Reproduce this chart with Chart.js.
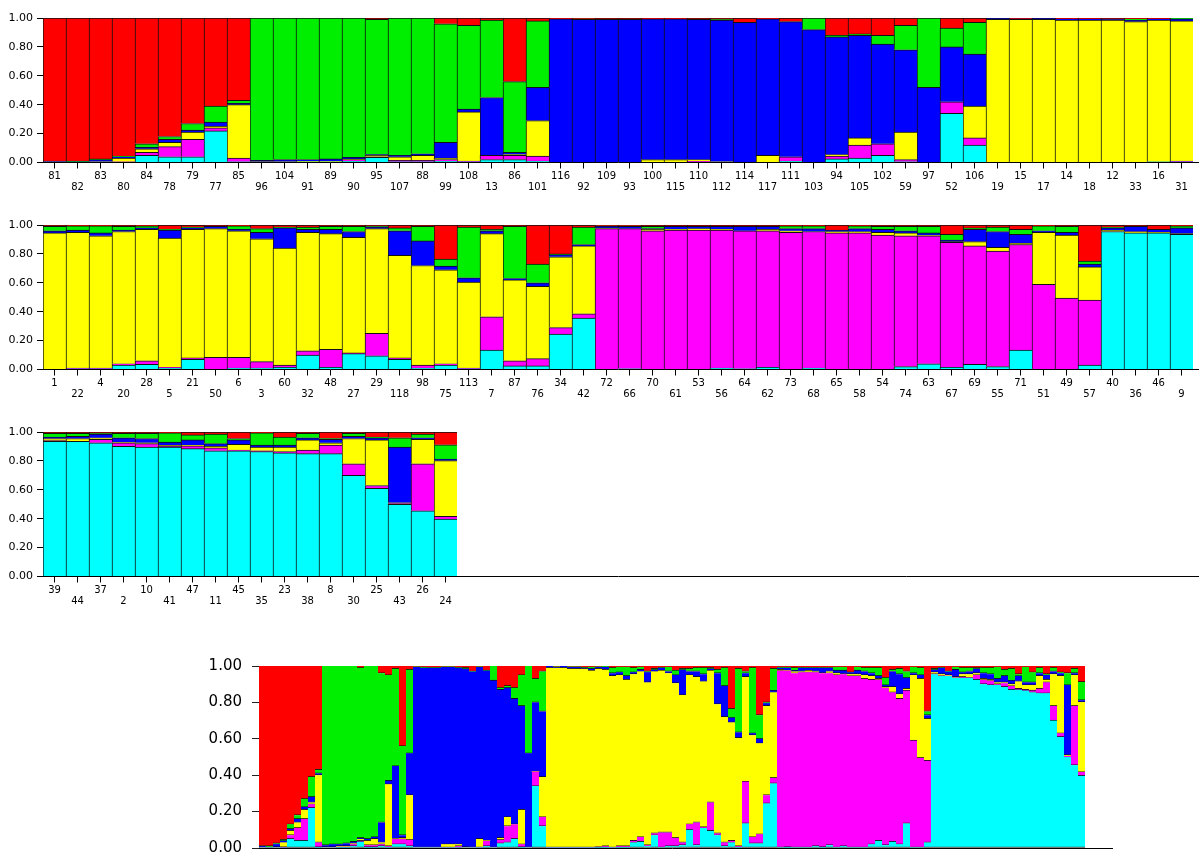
<!DOCTYPE html>
<html><head><meta charset="utf-8">
<script src="https://cdn.jsdelivr.net/npm/chart.js@4.4.1/dist/chart.umd.min.js"></script>
<style>
html,body{margin:0;padding:0;background:#fff;width:1199px;height:867px;overflow:hidden;}
canvas{position:absolute;left:0;}
</style></head><body>
<canvas id="r1" width="1199" height="200" style="top:0px"></canvas>
<canvas id="r2" width="1199" height="200" style="top:207px"></canvas>
<canvas id="r3" width="1199" height="200" style="top:414px"></canvas>
<canvas id="r4" width="1199" height="227" style="top:640px"></canvas>
<script>
// ---- Row 1 ----
const row1Labels = ['81','82','83','80','84','78','79','77','85','96','104','91','89','90','95','107','88','99','108','13','86','101','116','92','109','93','100','115','110','112','114','117','111','103','94','105','102','59','97','52','106','19','15','17','14','18','12','33','16','31'];
const row1Cyan = [0,0,0,0,.05,.04,.04,.22,.005, 0,0,.005,.005,.01,.035,.005,.005,.01,.005,.02,.02,.01, 0,0,0,0,0,0,0,0,0,0,.01,0,.025,.03,.05,.005,0,.34,.12, 0,0,0,0,0,0,0,.005,.005];
const row1Magenta = [0,0,0,.005,.02,.07,.12,.02,.025, 0,0,0,0,.01,.005,.01,.01,.01,.005,.03,.03,.035, 0,0,0,0,0,0,.01,0,0,0,.03,0,.02,.09,.08,.015,0,.08,.05, 0,0,0,0,0,0,0,0,.005];
const row1Yellow = [.005,0,.005,.025,.025,.03,.05,.01,.37, .005,.005,.005,.005,.005,.01,.025,.035,.01,.34,0,.005,.245, 0,0,0,0,.02,.02,.01,.005,0,.05,0,0,.01,.05,0,.19,0,0,.22, .99,.99,.99,.985,.985,.985,.975,.98,.97];
const row1Blue = [.005,.005,.015,.01,.01,.02,.015,.03,.01, .01,.015,.01,.015,.01,.005,.01,.01,.11,.02,.40,.015,.23, .995,.99,.99,.99,.975,.975,.97,.98,.97,.945,.935,.92,.815,.71,.69,.57,.52,.38,.36, .01,.005,.01,.01,.01,.005,.01,.01,.015];
const row1Green = [0,.005,.005,.005,.025,.02,.045,.11,.02, .985,.98,.98,.975,.965,.935,.95,.94,.82,.58,.535,.49,.46, 0,.005,0,0,0,0,0,.005,0,0,0,.08,.01,.01,.06,.17,.48,.13,.22, 0,0,0,0,0,0,.01,0,.005];
const row1Red = [.99,.99,.975,.955,.87,.82,.73,.61,.57, 0,0,0,0,0,.01,0,0,.04,.05,.015,.44,.02, .005,.005,.01,.01,.005,.005,.01,.01,.03,.005,.025,0,.12,.11,.12,.05,0,.07,.03, 0,.005,0,.005,.005,.01,.005,.005,0];

// ---- Row 2 ----
const row2Labels = ['1','22','4','20','28','5','21','50','6','3','60','32','48','27','29','118','98','75','113','7','87','76','34','42','72','66','70','61','53','56','64','62','73','68','65','58','54','74','63','67','69','55','71','51','49','57','40','36','46','9'];
const row2Cyan = [0,.005,.005,.03,.035,.01,.07,0,.01,.01,.015,.10,.015,.11,.095,.07,.01,.03,.005,.135,.025,.025,.245,.355, 0,.005,0,0,0,.01,.005,.015,0,.01,0,0,0,.02,.04,.015,.035,.02,.135,0,0,.03, .955,.945,.945,.935];
const row2Magenta = [0,.005,.005,.01,.025,.005,.01,.085,.075,.045,.015,.03,.125,.005,.155,.01,.02,.01,.005,.23,.035,.05,.045,.03, .975,.97,.96,.965,.965,.955,.955,.945,.95,.945,.945,.945,.93,.905,.885,.865,.82,.80,.73,.59,.495,.45, 0,0,0,0];
const row2Yellow = [.945,.94,.915,.915,.91,.895,.89,.89,.875,.85,.81,.82,.80,.80,.725,.71,.69,.65,.595,.575,.56,.50,.49,.47, .005,0,.01,.005,.01,.005,0,.01,.01,0,.01,.01,.02,.02,.005,.005,.03,.025,.01,.36,.435,.23, .01,.01,.005,.005];
const row2Blue = [.015,.015,.02,.01,.01,.055,.01,.015,.01,.045,.14,.02,.03,.04,.01,.17,.17,.025,.03,.02,.01,.025,.015,.01, .01,.015,.005,.02,.015,.02,.03,.02,.015,.02,.01,.02,.02,.015,.015,.01,.085,.11,.06,.01,.02,.02, .015,.035,.02,.04];
const row2Green = [.03,.03,.05,.025,.015,.005,.005,0,.025,.025,.005,.015,.02,.035,.005,.02,.10,.05,.35,.01,.36,.13,.005,.12, .005,.005,.015,0,0,0,0,0,.02,.02,0,.02,.02,.03,.045,.04,.01,.03,.035,.035,.04,.02, .005,0,0,.015];
const row2Red = [.01,.005,.005,.01,.005,.03,.015,.01,.005,.025,.015,.015,.01,.01,.01,.02,.01,.235,.015,.03,.01,.27,.20,.015, .005,.005,.01,.01,.01,.01,.01,.01,.005,.005,.035,.005,.01,.01,.01,.065,.02,.015,.03,.005,.01,.25, .015,.01,.03,.005];

// ---- Row 3 ----
const row3Labels = ['39','44','37','2','10','41','47','11','45','35','23','38','8','30','25','43','26','24'];
const row3Cyan = [.935,.935,.925,.90,.895,.895,.885,.87,.87,.865,.855,.85,.85,.70,.61,.50,.455,.397];
const row3Magenta = [.005,0,.025,.025,.025,.005,.02,.02,.005,.005,.01,.025,.06,.08,.02,.005,.325,.02];
const row3Yellow = [.015,.02,.01,.005,.005,.01,.005,.01,.04,.025,.03,.07,.015,.175,.315,.005,.17,.385];
const row3Blue = [.01,.015,.025,.03,.03,.02,.035,.02,.03,.015,.015,.015,.025,.015,.015,.385,.01,.01];
const row3Green = [.025,.02,.005,.03,.035,.065,.035,.065,.01,.085,.055,.03,.005,.02,.005,.065,.025,.10];
const row3Red = [.01,.01,.01,.01,.01,.005,.02,.015,.045,.005,.035,.01,.045,.01,.035,.04,.015,.088];

const yTicks = ['0.00','0.20','0.40','0.60','0.80','1.00'];
const clusterNames = ['Cluster 6','Cluster 5','Cluster 4','Cluster 3','Cluster 2','Cluster 1'];
const clusterColors = ['#00ffff','#ff00ff','#ffff00','#0000ff','#00ee00','#ff0000'];

const extendAxis = {
  id: 'extendAxis',
  afterDraw(chart, args, opts) {
    const ctx = chart.ctx, a = chart.chartArea;
    const y = Math.round(a.bottom - 0.5) + 0.5;
    ctx.save();
    ctx.strokeStyle = '#000'; ctx.lineWidth = 1;
    ctx.beginPath(); ctx.moveTo(a.right - 1, y); ctx.lineTo(opts.to, y); ctx.stroke();
    ctx.restore();
  }
};

function buildSets(series, bw) {
  return series.map((d, i) => ({
    label: clusterNames[i], data: d, backgroundColor: clusterColors[i],
    borderColor: '#111', borderWidth: bw, borderSkipped: false,
    barPercentage: 1, categoryPercentage: 1, stack: 's'
  }));
}

function rowChart(id, labels, series, slots) {
  const full = [];
  for (let i = 0; i < slots; i++) {
    const l = i < labels.length ? labels[i] : '';
    full.push(i % 2 === 0 ? [l, ''] : ['', l]);
  }
  const n = labels.length;
  const vis = c => (c.index < n ? '#000' : 'rgba(0,0,0,0)');
  new Chart(document.getElementById(id), {
    type: 'bar',
    data: { labels: full, datasets: buildSets(series, {left: 1, top: 1, right: 0, bottom: 0}) },
    options: {
      responsive: false, animation: false, devicePixelRatio: 1,
      layout: { padding: { top: 18, right: 6, left: 0, bottom: 0 } },
      plugins: { legend: { display: false }, tooltip: { enabled: false }, extendAxis: { to: 1199 } },
      scales: {
        x: {
          stacked: true, offset: true, z: 1,
          grid: { display: true, drawOnChartArea: false, drawTicks: true, tickLength: 6, offset: false, color: vis, tickColor: vis },
          border: { display: true, color: '#000', width: 1 },
          ticks: { autoSkip: false, maxRotation: 0, minRotation: 0, padding: 2, color: '#000',
                   font: { family: 'DejaVu Sans', size: 10, lineHeight: 1.1 } },
          afterFit: s => { s.height = 37.5; }
        },
        y: {
          stacked: true, min: 0, max: 1, z: 1,
          grid: { drawOnChartArea: false, tickLength: 6, color: '#000', tickColor: '#000' },
          border: { color: '#000', width: 1 },
          ticks: { stepSize: 0.2, padding: 4, color: '#000', font: { family: 'DejaVu Sans', size: 11 },
                   callback: (v) => yTicks[Math.round(v * 5)] },
          afterFit: s => { s.width = 43; }
        }
      }
    },
    plugins: [extendAxis]
  });
}

rowChart('r1', row1Labels, [row1Cyan, row1Magenta, row1Yellow, row1Blue, row1Green, row1Red], 50);
rowChart('r2', row2Labels, [row2Cyan, row2Magenta, row2Yellow, row2Blue, row2Green, row2Red], 50);
rowChart('r3', row3Labels, [row3Cyan, row3Magenta, row3Yellow, row3Blue, row3Green, row3Red], 50);

// ---- Combined plot (all individuals in the same order) ----
const allLabels = [...row1Labels, ...row2Labels, ...row3Labels];
const allSeries = [
  [...row1Cyan, ...row2Cyan, ...row3Cyan],
  [...row1Magenta, ...row2Magenta, ...row3Magenta],
  [...row1Yellow, ...row2Yellow, ...row3Yellow],
  [...row1Blue, ...row2Blue, ...row3Blue],
  [...row1Green, ...row2Green, ...row3Green],
  [...row1Red, ...row2Red, ...row3Red]
];
new Chart(document.getElementById('r4'), {
  type: 'bar',
  data: { labels: allLabels, datasets: buildSets(allSeries, {left: 0, top: 0, right: 0, bottom: 1}) },
  options: {
    responsive: false, animation: false, devicePixelRatio: 1,
    layout: { padding: { top: 26, right: 114, left: 0, bottom: 0 } },
    plugins: { legend: { display: false }, tooltip: { enabled: false }, extendAxis: { to: 1113 } },
    scales: {
      x: {
        stacked: true, offset: true, z: 1,
        grid: { display: false, drawTicks: false },
        border: { display: true, color: '#000', width: 1 },
        ticks: { display: false },
        afterFit: s => { s.height = 5; }
      },
      y: {
        stacked: true, min: 0, max: 1, z: 1,
        grid: { drawOnChartArea: false, tickLength: 7, color: '#000', tickColor: '#222' },
        border: { color: '#000', width: 1 },
        ticks: { stepSize: 0.2, padding: 10, color: '#000', font: { family: 'DejaVu Sans', size: 15 },
                 callback: (v) => yTicks[Math.round(v * 5)] },
        afterFit: s => { s.width = 259; }
      }
    }
  },
  plugins: [extendAxis]
});
</script>
</body></html>
